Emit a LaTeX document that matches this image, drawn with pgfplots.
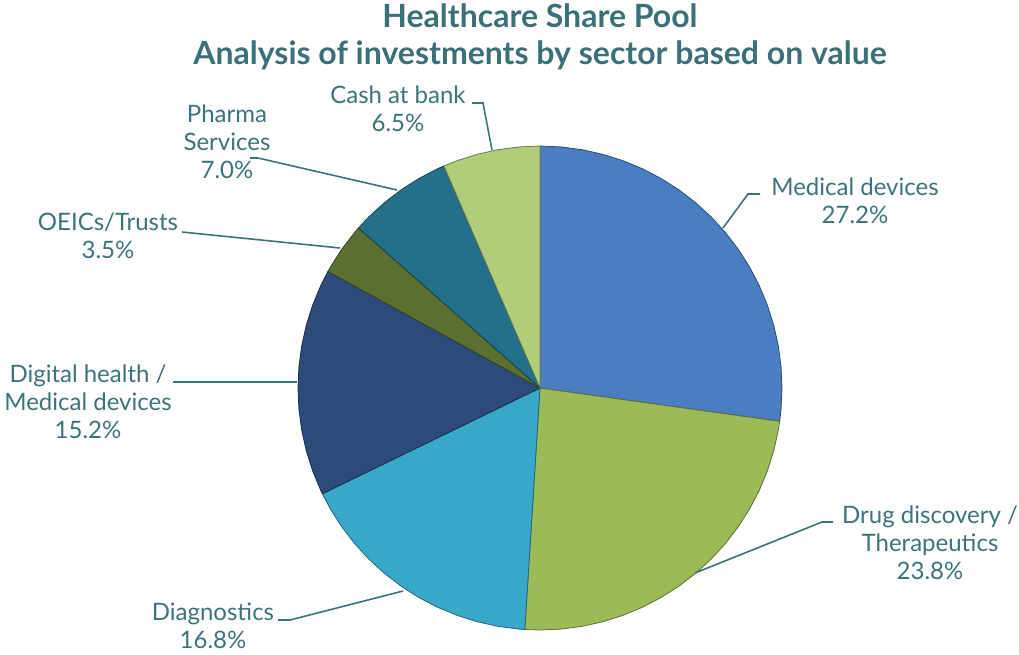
\documentclass[border=0pt]{standalone}
\usepackage{pgfplots}
\pgfplotsset{compat=1.18}
\usepgfplotslibrary{polar}
\usepackage{fontspec}
\setmainfont{Lato}
\definecolor{titlec}{RGB}{58,112,120}
\definecolor{labc}{RGB}{60,116,124}
\definecolor{cA}{RGB}{74,126,192}
\definecolor{cB}{RGB}{155,187,89}
\definecolor{cC}{RGB}{56,168,200}
\definecolor{cD}{RGB}{44,75,122}
\definecolor{cE}{RGB}{91,112,48}
\definecolor{cF}{RGB}{36,112,138}
\definecolor{cG}{RGB}{176,206,122}
\begin{document}
\begin{tikzpicture}
\begin{scope}[x=1pt,y=-1pt]
\path[use as bounding box] (0,0) rectangle (1019,654);
\end{scope}
% slice boundaries: start at 90 deg, clockwise; angle = 90 - 3.6 * cumulative %
% 27.2, 23.8, 16.8, 15.2, 3.5, 7.0, 6.5
\begin{polaraxis}[
  at={(540pt,-388pt)}, anchor=origin,
  scale only axis, width=484pt, height=484pt,
  ymin=0, ymax=1, hide axis, clip=false,
  every axis plot/.append style={line width=0.8pt, line join=round},
]
\addplot[fill=cA, draw=cA!60!black] coordinates {(0,0) (90,1) (85,1) (80,1) (75,1) (70,1) (65,1) (60,1) (55,1) (50,1) (45,1) (40,1) (35,1) (30,1) (25,1) (20,1) (15,1) (10,1) (5,1) (0,1) (-5,1) (-7.92,1) (0,0)};
\addplot[fill=cB, draw=cB!60!black] coordinates {(0,0) (-7.92,1) (-10,1) (-15,1) (-20,1) (-25,1) (-30,1) (-35,1) (-40,1) (-45,1) (-50,1) (-55,1) (-60,1) (-65,1) (-70,1) (-75,1) (-80,1) (-85,1) (-90,1) (-93.6,1) (0,0)};
\addplot[fill=cC, draw=cC!60!black] coordinates {(0,0) (-93.6,1) (-95,1) (-100,1) (-105,1) (-110,1) (-115,1) (-120,1) (-125,1) (-130,1) (-135,1) (-140,1) (-145,1) (-150,1) (-154.08,1) (0,0)};
\addplot[fill=cD, draw=cD!60!black] coordinates {(0,0) (-154.08,1) (-155,1) (-160,1) (-165,1) (-170,1) (-175,1) (-180,1) (-185,1) (-190,1) (-195,1) (-200,1) (-205,1) (-208.8,1) (0,0)};
\addplot[fill=cE, draw=cE!60!black] coordinates {(0,0) (-208.8,1) (-210,1) (-215,1) (-220,1) (-221.4,1) (0,0)};
\addplot[fill=cF, draw=cF!60!black] coordinates {(0,0) (-221.4,1) (-225,1) (-230,1) (-235,1) (-240,1) (-245,1) (-246.6,1) (0,0)};
\addplot[fill=cG, draw=cG!60!black] coordinates {(0,0) (-246.6,1) (-250,1) (-255,1) (-260,1) (-265,1) (-270,1) (0,0)};
\end{polaraxis}
\begin{scope}[x=1pt,y=-1pt]
\node[titlec, font=\fontsize{32}{37}\selectfont\bfseries, align=center] at (540,37) {Healthcare Share Pool\\Analysis of investments by sector based on value};
\begin{scope}[labc, line width=1.6pt]
\draw (723,228) -- (748,194) -- (760,194);
\draw (695,573) -- (822,522) -- (833,522);
\draw (403,591) -- (290,620) -- (278,620);
\draw (297,382) -- (173,382);
\draw (340,248) -- (182,232);
\draw (397,190) -- (258,158) -- (250,158);
\draw (492,150) -- (483,103) -- (472,103);
\end{scope}
\tikzset{lab/.style={labc, font=\fontsize{24}{28}\selectfont, align=center, inner sep=0pt}}
\node[lab] at (855,201) {Medical devices\\27.2\%};
\node[lab] at (930,543) {Drug discovery /\\Therapeutics\\23.8\%};
\node[lab] at (213,626) {Diagnostics\\16.8\%};
\node[lab] at (88,402) {Digital health /\\Medical devices\\15.2\%};
\node[lab] at (108,236) {OEICs/Trusts\\3.5\%};
\node[lab] at (227,142) {Pharma\\Services\\7.0\%};
\node[lab] at (398,109) {Cash at bank\\6.5\%};
\end{scope}
\end{tikzpicture}
\end{document}
